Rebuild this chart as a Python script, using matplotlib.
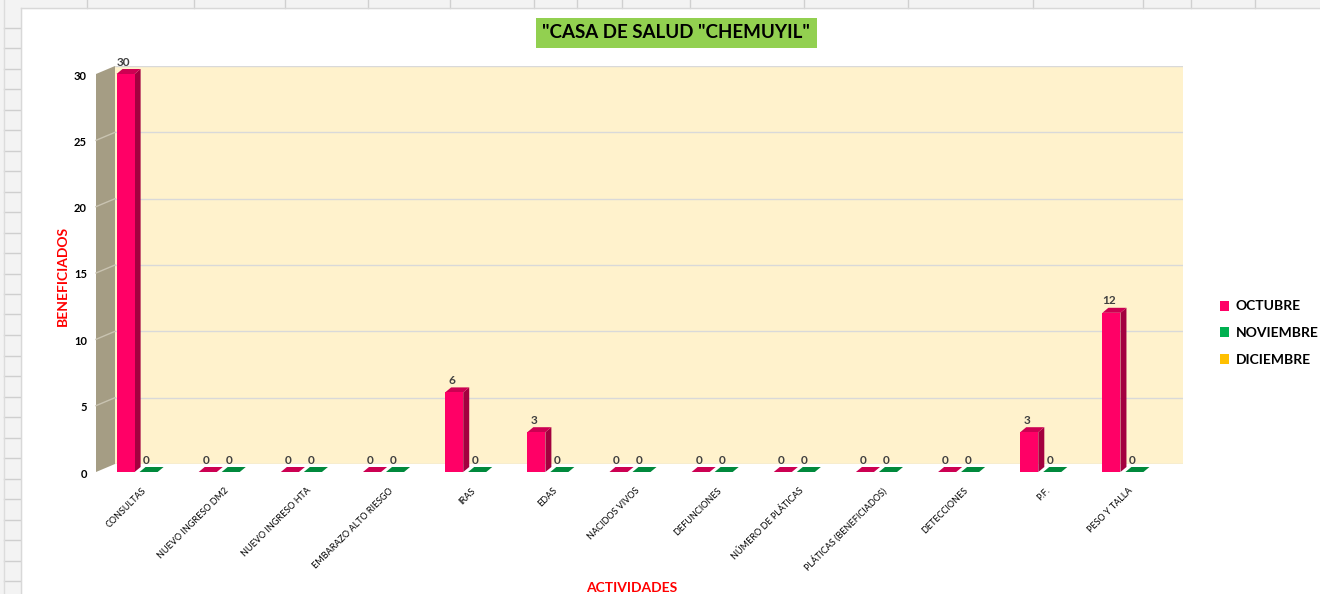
import matplotlib
matplotlib.use('Agg')
import matplotlib.pyplot as plt
from matplotlib.patches import Polygon, Rectangle, Patch
from matplotlib.transforms import offset_copy, IdentityTransform

plt.rcParams['font.family'] = ['Lato', 'DejaVu Sans']

# data
actividades = ['CONSULTAS', 'NUEVO INGRESO DM2', 'NUEVO INGRESO HTA', 'EMBARAZO ALTO RIESGO',
               'IRAS', 'EDAS', 'NACIDOS VIVOS', 'DEFUNCIONES', 'NÚMERO DE PLÁTICAS',
               'PLÁTICAS (BENEFICIADOS)', 'DETECCIONES', 'P.F.', 'PESO Y TALLA']
octubre = [30, 0, 0, 0, 6, 3, 0, 0, 0, 0, 0, 3, 12]
noviembre = [0, 0, 0, 0, 0, 0, 0, 0, 0, 0, 0, 0, 0]
diciembre = []
y_ticks = [0, 5, 10, 15, 20, 25, 30]

W, H = 1320, 594
fig = plt.figure(figsize=(W / 100, H / 100), dpi=100)

def fx(px):
    return px / W

def fy(py):
    return 1 - py / H

# spreadsheet look behind the chart
fig.patches.append(Rectangle((0, fy(8)), 1, 8 / H, transform=fig.transFigure, color='#f3f3f3', zorder=0))
fig.patches.append(Rectangle((0, 0), fx(21), 1, transform=fig.transFigure, color='#f3f3f3', zorder=0))
for cx in [87, 194, 285, 368, 450, 534, 577, 622, 690, 804, 908, 1033, 1143, 1191, 1255]:
    fig.add_artist(plt.Line2D([fx(cx), fx(cx)], [fy(0), fy(8)], transform=fig.transFigure, color='#d0d0d0', lw=1))
ry = 27.5
while ry < H:
    fig.add_artist(plt.Line2D([fx(4), fx(20)], [fy(ry), fy(ry)], transform=fig.transFigure, color='#cfcfcf', lw=1))
    ry += 20.5
fig.add_artist(plt.Line2D([fx(21), 1], [fy(8), fy(8)], transform=fig.transFigure, color='#d8d8d8', lw=1))
fig.add_artist(plt.Line2D([fx(21), fx(21)], [0, fy(8)], transform=fig.transFigure, color='#d8d8d8', lw=1))
fig.add_artist(plt.Line2D([fx(4), fx(4)], [0, 1], transform=fig.transFigure, color='#dcdcdc', lw=1))

# back wall
ax = fig.add_axes([fx(115), fy(464), fx(1183) - fx(115), (464 - 66) / H])
ax.set_xlim(-0.5, len(actividades) - 0.5)
ax.set_ylim(0, 30)
ax.set_facecolor('#fff2cc')
for s in ax.spines.values():
    s.set_visible(False)
ax.set_xticks([])
ax.set_yticks([])
for v in y_ticks:
    ax.axhline(v, color='#d9d9d9', lw=1, zorder=1)

DX, DY = -19, -8       # front offset in pixels
dx, dy = 6, 5          # bar depth
bw = 0.22
front = offset_copy(ax.transData, fig=fig, x=DX, y=DY, units='dots')

fig.canvas.draw()

# side wall
x0 = ax.get_xlim()[0]
bl = ax.transData.transform((x0, 0))
tl = ax.transData.transform((x0, 30))
side = Polygon([(bl[0], bl[1]), (tl[0], tl[1]), (tl[0] + DX, tl[1] + DY), (bl[0] + DX, bl[1] + DY)],
               closed=True, transform=IdentityTransform(), facecolor='#a59d84', edgecolor='none', clip_on=False, zorder=2)
fig.patches.append(side)
for v in y_ticks[1:-1]:
    p = ax.transData.transform((x0, v))
    fig.add_artist(plt.Line2D([p[0], p[0] + DX], [p[1], p[1] + DY], transform=IdentityTransform(),
                              color='#c9c3b1', lw=1, zorder=3))

def bar3d(xc, val, c_front, c_side, c_top):
    a = front.transform((xc - bw / 2, 0))
    b = front.transform((xc + bw / 2, val))
    xl, xr, yb, yt = a[0], b[0], a[1], b[1]
    fig.patches.append(Polygon([(xr, yb), (xr + dx, yb + dy), (xr + dx, yt + dy), (xr, yt)],
                               closed=True, transform=IdentityTransform(), facecolor=c_side,
                               edgecolor='none', zorder=4))
    fig.patches.append(Polygon([(xl, yt), (xr, yt), (xr + dx, yt + dy), (xl + dx, yt + dy)],
                               closed=True, transform=IdentityTransform(), facecolor=c_top,
                               edgecolor='none', zorder=4))
    if val > 0:
        fig.patches.append(Rectangle((xl, yb), xr - xl, yt - yb, transform=IdentityTransform(),
                                     facecolor=c_front, edgecolor='none', zorder=5))

lab_tr = offset_copy(ax.transData, fig=fig, x=DX - 2, y=DY + 12, units='dots')
for i in range(len(actividades)):
    bar3d(i + 0.14, noviembre[i], '#00b050', '#006b2e', '#00893c')
    bar3d(i - 0.14, octubre[i], '#ff0066', '#a3003f', '#cc0052')
    for xc, v in [(i - 0.14, octubre[i]), (i + 0.14, noviembre[i])]:
        fig.text(*fig.transFigure.inverted().transform(lab_tr.transform((xc, v))), str(v),
                 ha='center', va='center', fontsize=8.5, fontweight='bold', color='#404040', zorder=6)

# y tick labels
ytr = offset_copy(ax.transData, fig=fig, x=-28, y=-10, units='dots')
for v in y_ticks:
    ax.text(x0, v, str(v), transform=ytr, ha='right', va='center', fontsize=8,
            fontweight='bold', color='black', clip_on=False)

# x tick labels
xtr = offset_copy(ax.transData, fig=fig, x=DX + 5, y=DY - 14, units='dots')
for i, name in enumerate(actividades):
    ax.text(i, 0, name, transform=xtr, rotation=45, rotation_mode='anchor', ha='right', va='top',
            fontsize=6.5, color='black', clip_on=False)

# title and axis labels
fig.text(fx(676), fy(33), '"CASA DE SALUD "CHEMUYIL"', ha='center', va='center', fontsize=13.5,
         fontweight='bold', color='black',
         bbox=dict(boxstyle='square,pad=0.35', facecolor='#92d050', edgecolor='none'))
fig.text(fx(63), fy(276), 'BENEFICIADOS', rotation=90, ha='center', va='center', fontsize=10,
         fontweight='bold', color='#ff0000')
fig.text(fx(632), fy(588), 'ACTIVIDADES', ha='center', va='center', fontsize=10,
         fontweight='bold', color='#ff0000')

handles = [Patch(facecolor='#ff0066'), Patch(facecolor='#00b050'), Patch(facecolor='#ffc000')]
fig.legend(handles, ['OCTUBRE', 'NOVIEMBRE', 'DICIEMBRE'], loc='upper left',
           bbox_to_anchor=(fx(1207), fy(288)), frameon=False, handlelength=0.7, handleheight=0.7,
           handletextpad=0.45, labelspacing=1.05, prop={'weight': 'bold', 'size': 10})

fig.savefig('out.png', dpi=100, facecolor='white')
